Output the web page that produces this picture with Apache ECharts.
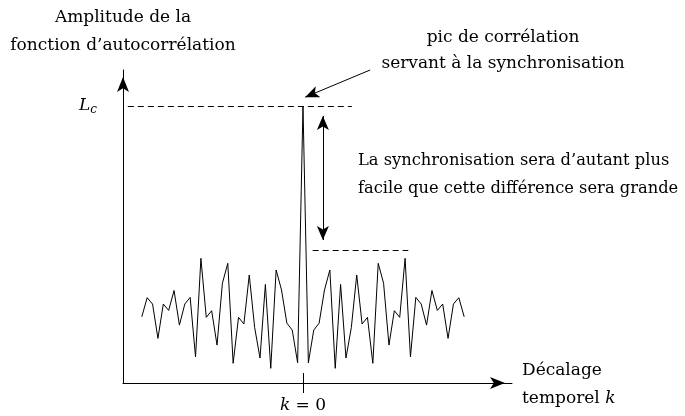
<!DOCTYPE html>
<html>
<head>
<meta charset="utf-8">
<script src="https://cdn.jsdelivr.net/npm/echarts@6/dist/echarts.min.js"></script>
<style>
  html, body { margin: 0; background: #fff; }
  #main { width: 685px; height: 416px; }
</style>
</head>
<body>
<div id="main"></div>
<script>
// decalage temporel k
var lags = [-30, -29, -28, -27, -26, -25, -24, -23, -22, -21, -20, -19, -18, -17, -16, -15, -14, -13, -12, -11,
            -10, -9, -8, -7, -6, -5, -4, -3, -2, -1, 0, 1, 2, 3, 4, 5, 6, 7, 8, 9,
            10, 11, 12, 13, 14, 15, 16, 17, 18, 19, 20, 21, 22, 23, 24, 25, 26, 27, 28, 29, 30];
// amplitude (Lc = 100)
var amplitude = [23.9, 30.8, 28.5, 16.1, 28.5, 26.2, 33.4, 20.9, 28.5, 30.9, 9.4, 45.0, 23.7, 26.1, 13.7, 36.0, 43.2, 7.1, 23.7, 21.3,
                 39.0, 20.1, 9.0, 35.6, 5.3, 40.8, 33.6, 21.6, 19.1, 7.3, 100, 7.3, 19.1, 21.6, 33.6, 40.8, 5.3, 35.6, 9.0, 20.1,
                 39.0, 21.3, 23.7, 7.1, 43.2, 36.0, 13.7, 26.1, 23.7, 45.0, 9.4, 30.9, 28.5, 20.9, 33.4, 26.2, 28.5, 16.1, 28.5, 30.8, 23.9];
var peakLevel = 100;      // Lc
var sideLobeLevel = 48;   // niveau des lobes secondaires
var tickValues = [0];

var serif = 'DejaVu Serif';
var fs = 17;

var points = lags.map(function (k, i) { return [k, amplitude[i]]; });

var chart = echarts.init(document.getElementById('main'));
chart.setOption({
    animation: false,
    backgroundColor: '#fff',
    grid: { left: 123, right: 173, top: 70, bottom: 33 },
    xAxis: {
        type: 'value',
        min: -33.5,
        max: 38.9,
        splitLine: { show: false },
        axisLine: {
            onZero: false,
            symbol: ['none', 'arrow'],
            symbolSize: [9, 15],
            symbolOffset: [0, -7],
            lineStyle: { color: '#000', width: 1 }
        },
        axisTick: { customValues: tickValues, length: 10, lineStyle: { color: '#000' } },
        axisLabel: {
            customValues: tickValues,
            margin: 14,
            color: '#000',
            fontFamily: serif,
            fontSize: fs,
            formatter: function () { return '{i|k} = 0'; },
            rich: { i: { fontStyle: 'italic', fontFamily: serif, fontSize: fs, color: '#000' } }
        },
        name: 'Décalage\ntemporel {i|k}',
        nameLocation: 'end',
        nameGap: 10,
        nameTextStyle: {
            color: '#000', fontFamily: serif, fontSize: fs, lineHeight: 28, align: 'left', padding: [4, 0, 0, 0],
            rich: { i: { fontStyle: 'italic', fontFamily: serif, fontSize: fs, color: '#000' } }
        }
    },
    yAxis: {
        type: 'value',
        min: 0,
        max: 113,
        splitLine: { show: false },
        axisLine: {
            onZero: false,
            symbol: ['none', 'arrow'],
            symbolSize: [9, 15],
            symbolOffset: [0, -7],
            lineStyle: { color: '#000', width: 1 }
        },
        axisTick: { show: false },
        axisLabel: {
            customValues: [peakLevel],
            margin: 26,
            color: '#000',
            formatter: function () { return '{i|L}{s|c}'; },
            rich: {
                i: { fontStyle: 'italic', fontFamily: serif, fontSize: fs, color: '#000' },
                s: { fontStyle: 'italic', fontFamily: serif, fontSize: 12, color: '#000', padding: [8, 0, 0, 0] }
            }
        },
        name: 'Amplitude de la\nfonction d\u2019autocorrélation',
        nameLocation: 'end',
        nameGap: 10,
        nameTextStyle: { color: '#000', fontFamily: serif, fontSize: fs, lineHeight: 28, align: 'center' }
    },
    graphic: [
        {
            type: 'text', x: 503, y: 51,
            style: {
                text: 'pic de corrélation\nservant à la synchronisation',
                fontFamily: serif, fontSize: fs, lineHeight: 26, fill: '#000',
                align: 'center', verticalAlign: 'middle'
            }
        },
        {
            type: 'text', x: 358, y: 175,
            style: {
                text: 'La synchronisation sera d\u2019autant plus\nfacile que cette différence sera grande',
                fontFamily: serif, fontSize: 16.3, lineHeight: 28, fill: '#000',
                align: 'left', verticalAlign: 'middle'
            }
        }
    ],
    series: [{
        type: 'line',
        data: points,
        showSymbol: false,
        clip: false,
        lineStyle: { color: '#000', width: 1 },
        markLine: {
            silent: true,
            animation: false,
            symbol: 'none',
            label: { show: false },
            lineStyle: { color: '#000', width: 1, type: 'solid' },
            data: [
                [{ coord: [-32.6, peakLevel], lineStyle: { type: [6, 4] } }, { coord: [9.1, peakLevel] }],
                [{ coord: [1.8, sideLobeLevel], lineStyle: { type: [6, 4] } }, { coord: [19.6, sideLobeLevel] }],
                [{ coord: [3.7, 96.4], symbol: 'arrow', symbolSize: [9, 14] },
                 { coord: [3.7, 51.6], symbol: 'arrow', symbolSize: [9, 14] }],
                [{ coord: [12.5, 113], symbol: 'none' },
                 { coord: [0.4, 103.2], symbol: 'arrow', symbolSize: [9, 14] }],
                [{ coord: [0, 0] }, { coord: [0, 3.6] }]
            ]
        }
    }]
});
</script>
</body>
</html>
